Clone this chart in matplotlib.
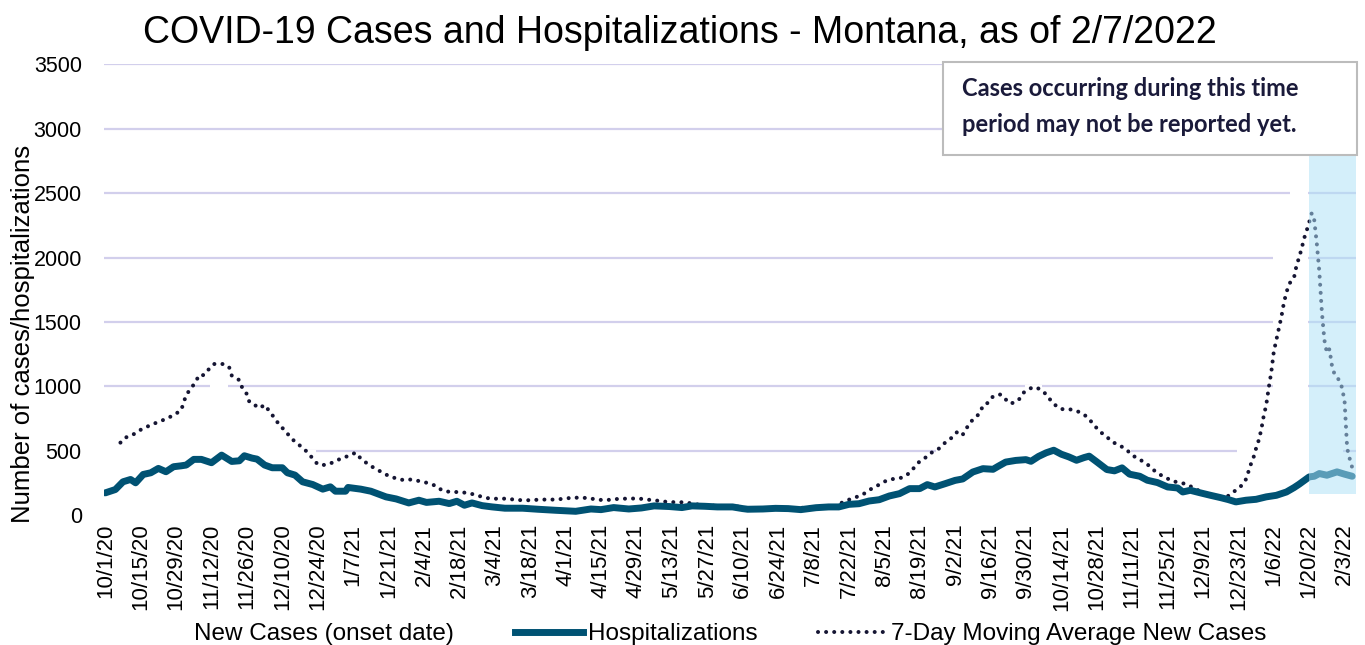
import numpy as np
import matplotlib
matplotlib.use('Agg')
import matplotlib.pyplot as plt
from matplotlib.patches import Rectangle, Patch
from matplotlib.lines import Line2D

# ---------------- data (day index: 0 = 10/1/20) ----------------
tick_labels = ['10/1/20', '10/15/20', '10/29/20', '11/12/20', '11/26/20', '12/10/20',
               '12/24/20', '1/7/21', '1/21/21', '2/4/21', '2/18/21', '3/4/21', '3/18/21',
               '4/1/21', '4/15/21', '4/29/21', '5/13/21', '5/27/21', '6/10/21', '6/24/21',
               '7/8/21', '7/22/21', '8/5/21', '8/19/21', '9/2/21', '9/16/21', '9/30/21',
               '10/14/21', '10/28/21', '11/11/21', '11/25/21', '12/9/21', '12/23/21',
               '1/6/22', '1/20/22', '2/3/22']
tick_days = [0, 14, 28, 42, 56, 70, 84, 98, 112, 126, 140, 154, 168, 182, 196, 210, 224,
             238, 252, 266, 280, 294, 308, 322, 336, 350, 364, 378, 392, 406, 420, 434,
             448, 462, 476, 490]
n_days = 495

hosp_day = [0, 4, 7, 10, 12, 15, 18, 21, 24, 27, 30, 32, 35, 38, 42, 46, 50, 53, 55, 58,
            60, 63, 66, 70, 72, 75, 78, 82, 86, 89, 91, 95, 96, 101, 105, 111, 115, 120,
            124, 127, 132, 136, 139, 142, 145, 149, 153, 158, 165, 171, 178, 186, 192,
            196, 201, 207, 212, 217, 223, 228, 232, 237, 242, 248, 252, 254, 260, 265,
            270, 275, 281, 286, 290, 294, 298, 302, 306, 310, 314, 318, 322, 325, 328,
            332, 336, 339, 343, 347, 351, 353, 356, 360, 364, 366, 369, 372, 375, 378,
            381, 384, 387, 389, 392, 396, 399, 402, 405, 409, 412, 416, 420, 424, 426,
            429, 433, 437, 441, 444, 447, 451, 455, 459, 463, 467, 470, 472, 476, 478,
            480, 483, 487, 490, 493]
hosp_val = [174, 200, 260, 278, 252, 317, 330, 364, 338, 377, 384, 390, 434, 434, 408, 467,
            418, 423, 462, 444, 436, 390, 369, 369, 330, 312, 260, 239, 203, 221, 187, 187,
            216, 203, 187, 143, 127, 96, 117, 100, 109, 91, 109, 78, 96, 75, 65, 55, 55,
            47, 39, 31, 49, 44, 60, 49, 57, 73, 68, 60, 73, 70, 65, 65, 52, 47, 49, 54,
            52, 44, 59, 65, 65, 85, 90, 111, 121, 150, 168, 207, 207, 238, 220, 245, 271,
            282, 336, 362, 357, 380, 413, 426, 432, 419, 457, 485, 505, 474, 453, 427,
            448, 459, 415, 355, 345, 368, 319, 303, 272, 254, 220, 212, 181, 194, 174,
            155, 137, 122, 104, 117, 124, 143, 155, 181, 215, 241, 298, 303, 324, 311,
            337, 319, 303]

ma_day = [6, 8, 11, 13, 16, 19, 22, 24, 27, 30, 32, 34, 36, 37, 39, 41, 43, 47, 49, 50,
          53, 54, 56, 57, 59, 61, 63, 65, 67, 69, 71, 73, 75, 78, 80, 82, 84, 87, 90, 93,
          96, 99, 101, 104, 106, 109, 112, 115, 118, 121, 124, 127, 131, 133, 136, 140,
          143, 146, 149, 152, 156, 159, 162, 165, 168, 172, 175, 178, 182, 185, 188, 191,
          194, 198, 201, 204, 207, 211, 214, 217, 220, 223, 227, 230, 233, 236, 240, 243,
          246, 250, 252, 256, 259, 262, 266, 269, 272, 275, 279, 282, 285, 289, 291, 294,
          297, 300, 303, 306, 309, 312, 315, 318, 320, 322, 325, 327, 330, 332, 335, 337,
          339, 342, 344, 346, 347, 349, 351, 354, 356, 358, 361, 363, 366, 368, 371, 373,
          375, 378, 381, 384, 387, 389, 391, 393, 396, 398, 401, 404, 406, 409, 412, 414,
          417, 420, 422, 425, 428, 431, 434, 437, 440, 443, 445, 448, 450, 451, 452, 453,
          454, 455, 456, 457, 458, 459, 460, 461, 462, 463, 464, 465, 466, 467, 468, 469,
          470, 471, 472, 473, 474, 475, 476, 477, 478, 479, 480, 481, 482, 483, 484, 485,
          486, 487, 488, 489, 490, 491, 492, 493]
ma_val = [564, 603, 626, 654, 683, 709, 732, 748, 777, 815, 935, 987, 1044, 1088, 1088,
          1135, 1174, 1174, 1148, 1085, 1049, 997, 940, 878, 857, 831, 857, 805, 753, 696,
          660, 610, 571, 525, 488, 441, 395, 390, 410, 439, 460, 486, 441, 395, 371, 338,
          306, 286, 273, 278, 266, 253, 227, 195, 182, 180, 174, 161, 143, 130, 128, 130,
          120, 117, 117, 122, 122, 122, 130, 138, 135, 135, 122, 117, 125, 128, 130, 130,
          122, 117, 109, 102, 102, 99, 86, 81, 75, 73, 70, 68, 57, 54, 49, 52, 52, 49, 49,
          57, 65, 65, 70, 72, 96, 121, 142, 168, 207, 238, 271, 284, 292, 328, 375, 419,
          457, 491, 522, 563, 607, 651, 625, 724, 755, 801, 853, 873, 923, 938, 899, 866,
          891, 951, 987, 995, 959, 912, 863, 824, 824, 811, 782, 746, 700, 653, 609, 570,
          544, 505, 466, 433, 396, 358, 316, 285, 264, 254, 238, 202, 181, 155, 135, 135,
          168, 207, 246, 280, 340, 400, 450, 520, 580, 660, 770, 855, 990, 1110, 1270, 1360,
          1450, 1540, 1650, 1730, 1790, 1825, 1845, 1940, 2000, 2070, 2150, 2210, 2275,
          2345, 2290, 2110, 1890, 1580, 1360, 1260, 1290, 1160, 1095, 1075, 1040, 990, 880,
          520, 440, 370]

# New cases (onset date), weekly values starting 10/1/20 (drawn white like the original)
new_cases_weekly = [520, 640, 690, 750, 880, 990, 1170, 990, 860, 740, 560, 505, 400, 440,
                    450, 350, 290, 275, 240, 185, 172, 140, 128, 118, 120, 122, 136, 133,
                    120, 129, 124, 110, 102, 85, 74, 68, 54, 52, 49, 58, 66, 85, 138, 220,
                    282, 340, 470, 580, 680, 820, 930, 900, 1010, 900, 830, 770, 640, 540,
                    430, 330, 265, 215, 160, 150, 600, 900, 2050, 2550, 800, 700, 300]

shade_start_day = 476   # 1/20/22
shade_low, shade_high = 168, 2800

# ---------------- figure ----------------
W, H = 1365, 645
fig = plt.figure(figsize=(W / 100, H / 100), dpi=100)
ax = fig.add_axes([104 / W, (H - 515.3) / H, (1356 - 104) / W, (515.3 - 64.3) / H])

font = 'Liberation Sans'
grid_c = '#d2cfec'
hosp_c = '#005273'
ma_c = '#151533'

ax.set_xlim(-0.5, n_days - 0.5)
ax.set_ylim(0, 3500)
yt = list(range(0, 3501, 500))
ax.set_yticks(yt)
ax.set_yticklabels([str(v) for v in yt], fontfamily=font, fontsize=15.5)
ax.set_xticks(tick_days)
ax.set_xticklabels(tick_labels, rotation=90, fontfamily=font, fontsize=16)
ax.tick_params(axis='y', length=0, pad=16)
ax.tick_params(axis='x', length=0, pad=6)
for s in ax.spines.values():
    s.set_visible(False)
for v in yt:
    ax.axhline(v, color=grid_c, lw=1.6, zorder=0.5)

# white bars
starts = np.arange(len(new_cases_weekly)) * 7
widths = np.minimum(7, n_days - starts)
ax.bar(starts - 0.5 + widths / 2, new_cases_weekly, width=widths, color='white',
       edgecolor='none', zorder=1)

ax.plot(hosp_day, hosp_val, color=hosp_c, lw=5.0, solid_joinstyle='round',
        solid_capstyle='round', zorder=3)
ax.plot(ma_day, ma_val, color=ma_c, lw=2.9, linestyle=(0, (0.01, 2.0)),
        dash_capstyle='round', zorder=2.5)

ax.add_patch(Rectangle((shade_start_day, shade_low), n_days - 0.5 - shade_start_day,
                       shade_high - shade_low, facecolor='#ade1f7', alpha=0.52,
                       edgecolor='none', zorder=4))

# annotation box (figure pixels)
bx0, by0, bx1, by1 = 943, 62, 1357, 155
fig.patches.append(Rectangle((bx0 / W, (H - by1) / H), (bx1 - bx0) / W, (by1 - by0) / H,
                             transform=fig.transFigure, facecolor='white',
                             edgecolor='#bcbcbc', lw=1.5, zorder=10))
fig.text(962 / W, (H - 88) / H, 'Cases occurring during this time', fontfamily='Lato',
         fontweight='bold', fontsize=17, color='#1a1a3a', ha='left', va='center', zorder=11)
fig.text(962 / W, (H - 124) / H, 'period may not be reported yet.', fontfamily='Lato',
         fontweight='bold', fontsize=17, color='#1a1a3a', ha='left', va='center', zorder=11)

fig.text(680 / W, (H - 33) / H, 'COVID-19 Cases and Hospitalizations - Montana, as of 2/7/2022',
         fontfamily=font, fontsize=27, ha='center', va='center')
fig.text(23 / W, (H - 334) / H, 'Number of cases/hospitalizations', fontfamily=font,
         fontsize=18.5, rotation=90, ha='center', va='center')

handles = [Patch(facecolor='white', edgecolor='none'),
           Line2D([], [], color=hosp_c, lw=5.0),
           Line2D([], [], color=ma_c, lw=2.9, linestyle=(0, (0.01, 2.0)), dash_capstyle='round')]
labels = ['New Cases (onset date)', 'Hospitalizations', '7-Day Moving Average New Cases']
fig.legend(handles, labels, loc='center', bbox_to_anchor=(694 / W, 1 - 634 / H), ncol=3,
           frameon=False, prop={'family': font, 'size': 17.5}, handlelength=2.8,
           handletextpad=0.2, columnspacing=2.5, borderpad=0, borderaxespad=0)

fig.savefig('out.png', dpi=100)
